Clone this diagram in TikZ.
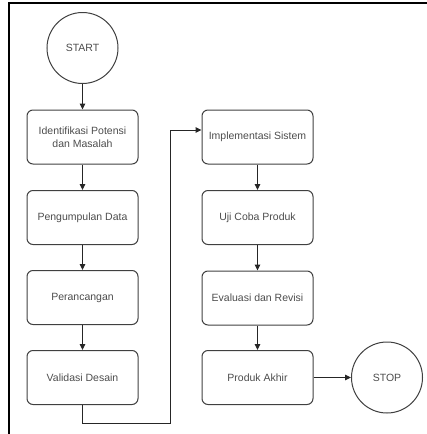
\documentclass[tikz,border=0pt]{standalone}
\usepackage{fontspec}
\setmainfont{Liberation Sans}
\usetikzlibrary{arrows.meta}
\begin{document}
\begin{tikzpicture}[x=1pt, y=-1pt, line width=1pt,
	proses/.style={draw=black!75, rounded corners=6pt, minimum width=111pt, minimum height=54pt, align=center, text=black!70, font=\fontsize{10.5}{13}\selectfont, inner sep=1pt},
	terminal/.style={draw=black!75, circle, minimum size=71pt, text=black!70, font=\fontsize{10.5}{13}\selectfont},
	alur/.style={draw=black!85, -{Triangle[length=6pt, width=5.5pt]}}]
	\useasboundingbox (0,0) rectangle (427,434);
	\draw[line width=1.6pt] (9,434) -- (9,3) -- (427,3);
	\node[terminal] (start) at (82.5,48) {START};
	\node[proses] (identifikasi) at (82.5,137) {Identifikasi Potensi\\dan Masalah};
	\node[proses] (pengumpulan) at (82.5,217.5) {Pengumpulan Data};
	\node[proses] (perancangan) at (82.5,297.5) {Perancangan};
	\node[proses] (validasi) at (82.5,377.5) {Validasi Desain};
	\node[proses] (implementasi) at (257.5,137) {Implementasi Sistem};
	\node[proses] (ujicoba) at (257.5,217.5) {Uji Coba Produk};
	\node[proses] (evaluasi) at (257.5,298) {Evaluasi dan Revisi};
	\node[proses] (akhir) at (257.5,377.5) {Produk Akhir};
	\node[terminal] (stop) at (387,377.5) {STOP};
	\coordinate (bawah) at (82.5,423);
	\coordinate (kanan) at (170,423);
	\coordinate (atas) at (170,130);
	\draw[alur] (start) -- (identifikasi);
	\draw[alur] (identifikasi) -- (pengumpulan);
	\draw[alur] (pengumpulan) -- (perancangan);
	\draw[alur] (perancangan) -- (validasi);
	\draw[alur] (validasi) -- (bawah) -- (kanan) -- (atas) -- (atas -| implementasi.west);
	\draw[alur] (implementasi) -- (ujicoba);
	\draw[alur] (ujicoba) -- (evaluasi);
	\draw[alur] (evaluasi) -- (akhir);
	\draw[alur] (akhir) -- (stop);
\end{tikzpicture}
\end{document}
